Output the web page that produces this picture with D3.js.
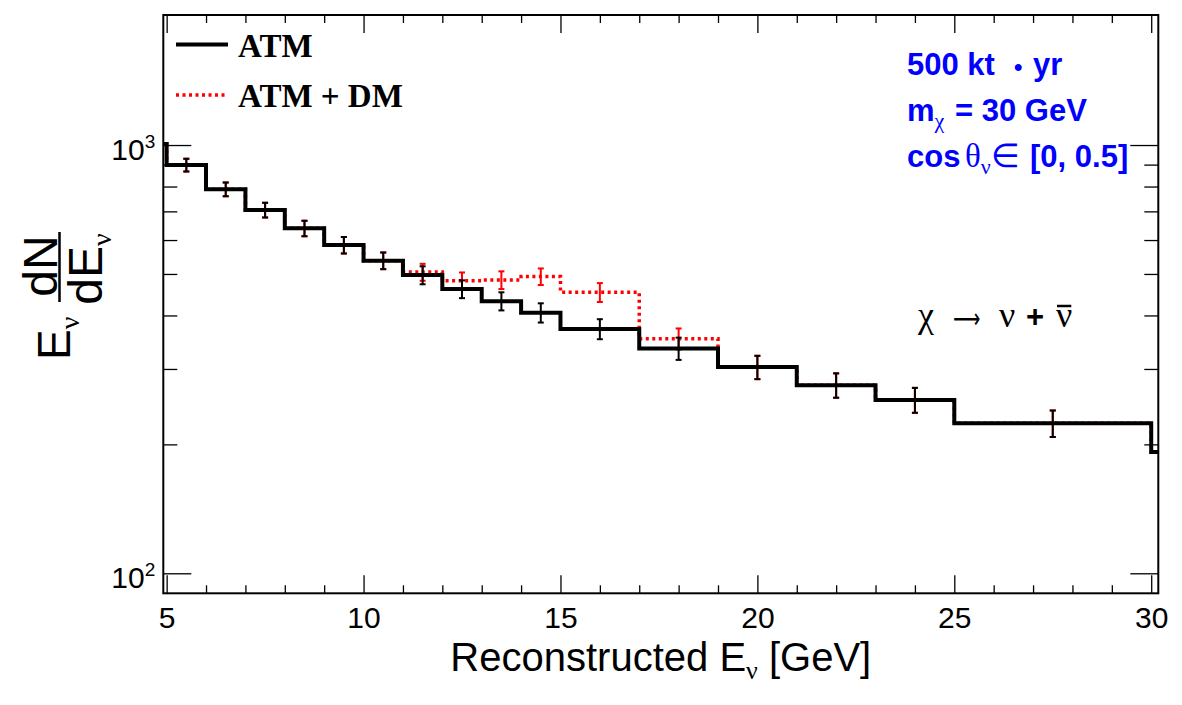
<!DOCTYPE html>
<html>
<head>
<meta charset="utf-8">
<style>
  body { margin: 0; background: #fff; }
  svg { display: block; }
  .axis .tick line { stroke: #000; stroke-width: 1.3px; }
  .axis text { font-family: "Liberation Sans", Arial, sans-serif; font-size: 30px; fill: #000; }
  .sans { font-family: "Liberation Sans", Arial, sans-serif; }
  .serif { font-family: "Liberation Serif", "Times New Roman", serif; }
  .sym { font-family: "DejaVu Sans", sans-serif; }
</style>
<script src="https://cdn.jsdelivr.net/npm/d3@7/dist/d3.min.js"></script>
</head>
<body>
<script>
// bin edges in reconstructed E_nu [GeV]; first and last bins are cut by the frame
const edges = [4, 5, 6, 7, 8, 9, 10, 11, 12, 13, 14, 15, 17, 19, 21, 23, 25, 30, 35];
// E dN/dE, atmospheric only
const atm    = [1005, 898, 788, 705, 639, 584, 537, 497, 461, 432, 406, 372, 335, 303, 275, 254, 224, 192];
const atmErr = [null, 31, 29, 28, 27, 26, 24, 24, 22, 21, 21, 20, 20, 19, 18, 17, 16, null];
// atmospheric + dark matter
const atmDm    = [1005, 898, 788, 705, 639, 584, 537, 505, 482, 484, 493, 453, 353, 303, 275, 254, 224, 192];
const atmDmErr = [null, 31, 29, 28, 27, 26, 24, 23, 22, 23, 22, 23, 20, 19, 18, 17, 16, null];

const xMajor = [5, 10, 15, 20, 25, 30];
const xMinor = d3.range(5, 31).filter(v => v % 5 !== 0);
const yMajor = [100, 1000];
const yMinor = [200, 300, 400, 500, 600, 700, 800, 900];
const yLabels = [{v: 100, exp: '2'}, {v: 1000, exp: '3'}];

const width = 1182, height = 705;
const margin = {top: 15, right: 23.7, bottom: 111.7, left: 163.3};

const x = d3.scaleLinear().domain([4.915, 30.18]).range([margin.left, width - margin.right]);
const y = d3.scaleLog().domain([89.8, 2012]).range([height - margin.bottom, margin.top]);

const svg = d3.select('body').append('svg')
  .attr('width', width).attr('height', height);

svg.append('clipPath').attr('id', 'plot')
  .append('rect')
  .attr('x', x.range()[0]).attr('y', y.range()[1])
  .attr('width', x.range()[1] - x.range()[0])
  .attr('height', y.range()[0] - y.range()[1]);

// axes, ROOT style: ticks inside on all four sides
function addAxis(axis, tx, ty) {
  const g = svg.append('g').attr('class', 'axis')
    .attr('transform', `translate(${tx},${ty})`).call(axis);
  g.select('.domain').remove();
  return g;
}
const bottomY = y.range()[0], topY = y.range()[1];
const leftX = x.range()[0], rightX = x.range()[1];

addAxis(d3.axisBottom(x).tickValues(xMajor).tickSizeInner(-18).tickSizeOuter(0)
  .tickPadding(13).tickFormat(d3.format('d')), 0, bottomY);
addAxis(d3.axisBottom(x).tickValues(xMinor).tickSizeInner(-8).tickSizeOuter(0).tickFormat(''), 0, bottomY);
addAxis(d3.axisTop(x).tickValues(xMajor).tickSizeInner(-18).tickSizeOuter(0).tickFormat(''), 0, topY);
addAxis(d3.axisTop(x).tickValues(xMinor).tickSizeInner(-8).tickSizeOuter(0).tickFormat(''), 0, topY);
addAxis(d3.axisLeft(y).tickValues(yMajor).tickSizeInner(-28).tickSizeOuter(0).tickFormat(''), leftX, 0);
addAxis(d3.axisLeft(y).tickValues(yMinor).tickSizeInner(-14).tickSizeOuter(0).tickFormat(''), leftX, 0);
addAxis(d3.axisRight(y).tickValues(yMajor).tickSizeInner(-28).tickSizeOuter(0).tickFormat(''), rightX, 0);
addAxis(d3.axisRight(y).tickValues(yMinor).tickSizeInner(-14).tickSizeOuter(0).tickFormat(''), rightX, 0);

// 10^n labels
const yl = svg.append('g').selectAll('text').data(yLabels).join('text')
  .attr('class', 'sans')
  .attr('x', leftX - 8).attr('y', d => y(d.v) + 15)
  .attr('text-anchor', 'end')
  .style('font-size', '30px');
yl.append('tspan').text('10');
yl.append('tspan').attr('dy', -12).style('font-size', '19px').text(d => d.exp);

// histograms
const plot = svg.append('g').attr('clip-path', 'url(#plot)');
const stepLine = d3.line().x(d => x(d[0])).y(d => y(d[1])).curve(d3.curveStepAfter);
const steps = vals => edges.map((e, i) => [e, vals[Math.min(i, vals.length - 1)]]);
const bars = (vals, errs) => vals.map((v, i) => ({c: (edges[i] + edges[i + 1]) / 2, v, e: errs[i]}))
  .filter(d => d.e != null);

function drawErrors(data, color) {
  const g = plot.append('g').attr('stroke', color).attr('stroke-width', 2);
  g.selectAll('.bar').data(data).join('line')
    .attr('x1', d => x(d.c)).attr('x2', d => x(d.c))
    .attr('y1', d => y(d.v - d.e)).attr('y2', d => y(d.v + d.e));
  g.selectAll('.capHi').data(data).join('line')
    .attr('x1', d => x(d.c) - 3).attr('x2', d => x(d.c) + 3)
    .attr('y1', d => y(d.v + d.e)).attr('y2', d => y(d.v + d.e));
  g.selectAll('.capLo').data(data).join('line')
    .attr('x1', d => x(d.c) - 3).attr('x2', d => x(d.c) + 3)
    .attr('y1', d => y(d.v - d.e)).attr('y2', d => y(d.v - d.e));
}

plot.append('path').datum(steps(atmDm))
  .attr('d', stepLine).attr('fill', 'none')
  .attr('stroke', '#ff0000').attr('stroke-width', 3.5)
  .attr('stroke-dasharray', '3 3.5');
drawErrors(bars(atmDm, atmDmErr), '#ff0000');

plot.append('path').datum(steps(atm))
  .attr('d', stepLine).attr('fill', 'none')
  .attr('stroke', '#000').attr('stroke-width', 4);
drawErrors(bars(atm, atmErr), '#000');

// frame
svg.append('rect')
  .attr('x', leftX).attr('y', topY)
  .attr('width', rightX - leftX).attr('height', bottomY - topY)
  .attr('fill', 'none').attr('stroke', '#000').attr('stroke-width', 2);

// legend
const legend = [
  {label: 'ATM', color: '#000', dash: null, w: 4},
  {label: 'ATM + DM', color: '#ff0000', dash: '3 3.5', w: 3.5}
];
const lg = svg.append('g').selectAll('g').data(legend).join('g')
  .attr('transform', (d, i) => `translate(176,${44.5 + i * 50.5})`);
lg.append('line').attr('x1', 0).attr('x2', 52)
  .attr('stroke', d => d.color).attr('stroke-width', d => d.w)
  .attr('stroke-dasharray', d => d.dash);
lg.append('text').attr('class', 'serif').attr('x', 62).attr('y', 12)
  .style('font-size', '33px').style('font-weight', 'bold')
  .text(d => d.label);

// info text, top right
const info = svg.append('g').attr('fill', '#0000ff')
  .attr('class', 'sans').style('font-size', '31px').style('font-weight', 'bold');
const t1 = info.append('text').attr('y', 75);
t1.append('tspan').attr('x', 907).text('500 kt');
t1.append('tspan').attr('x', 1014).style('font-size', '24px').text('\u2022');
t1.append('tspan').attr('x', 1033).text('yr');

const t2 = info.append('text').attr('y', 121);
t2.append('tspan').attr('x', 907).text('m');
t2.append('tspan').attr('class', 'serif').attr('dy', 7).style('font-size', '22px').style('font-weight', 'normal').text('\u03c7');
t2.append('tspan').attr('x', 955).attr('dy', -7).text('= 30 GeV');

const t3 = info.append('text').attr('y', 167);
t3.append('tspan').attr('x', 907).text('cos');
t3.append('tspan').attr('class', 'serif').attr('x', 965).style('font-weight', 'normal').style('font-size', '33px').text('\u03b8');
t3.append('tspan').attr('class', 'serif').attr('dy', 7).style('font-size', '22px').style('font-weight', 'normal').text('\u03bd');
t3.append('tspan').attr('class', 'serif').attr('x', 991).attr('dy', -7).style('font-weight', 'normal').style('font-size', '33px').text('\u2208');
t3.append('tspan').attr('x', 1030).text('[0, 0.5]');

// decay channel
const ch = svg.append('text').attr('class', 'serif').attr('y', 327).style('font-size', '36px');
ch.append('tspan').attr('x', 918).text('\u03c7');
ch.append('tspan').attr('x', 999).text('\u03bd');
ch.append('tspan').attr('class', 'sans').attr('x', 1026).style('font-weight', 'bold').style('font-size', '31px').text('+');
ch.append('tspan').attr('x', 1056).text('\u03bd');
{
  const n = ch.node().getNumberOfChars();
  const ext = ch.node().getExtentOfChar(n - 1);
  svg.append('line')
    .attr('x1', ext.x + 1).attr('x2', ext.x + ext.width - 1)
    .attr('y1', 306).attr('y2', 306)
    .attr('stroke', '#000').attr('stroke-width', 2.5);
}
// long thin arrow, squeezed to the reference width
svg.append('text').attr('class', 'sym')
  .attr('transform', 'translate(953,328) scale(0.68,1)')
  .style('font-size', '28px').text('\u27f6');

// x title
const xt = svg.append('text').attr('class', 'sans')
  .attr('x', (leftX + rightX) / 2).attr('y', 671)
  .attr('text-anchor', 'middle').style('font-size', '40px');
xt.append('tspan').text('Reconstructed E');
xt.append('tspan').attr('class', 'serif').attr('dy', 8).style('font-size', '26px').text('\u03bd');
xt.append('tspan').attr('dy', -8).attr('xml:space', 'preserve').text(' [GeV]');

// y title: E_nu dN/dE_nu, rotated
const yt = svg.append('g').attr('class', 'sans').attr('transform', 'rotate(-90)');
const e1 = yt.append('text').attr('x', -360).attr('y', 70).style('font-size', '46px');
e1.append('tspan').text('E');
e1.append('tspan').attr('class', 'serif').attr('dy', 9).style('font-size', '28px').text('\u03bd');
yt.append('text').attr('x', -266).attr('y', 57).attr('text-anchor', 'middle')
  .style('font-size', '48px').text('dN');
yt.append('line').attr('x1', -302).attr('x2', -232).attr('y1', 59.5).attr('y2', 59.5)
  .attr('stroke', '#000').attr('stroke-width', 2.5);
const den = yt.append('text').attr('x', -269).attr('y', 102).attr('text-anchor', 'middle')
  .style('font-size', '48px');
den.append('tspan').text('dE');
den.append('tspan').attr('class', 'serif').attr('dy', 9).style('font-size', '28px').text('\u03bd');
</script>
</body>
